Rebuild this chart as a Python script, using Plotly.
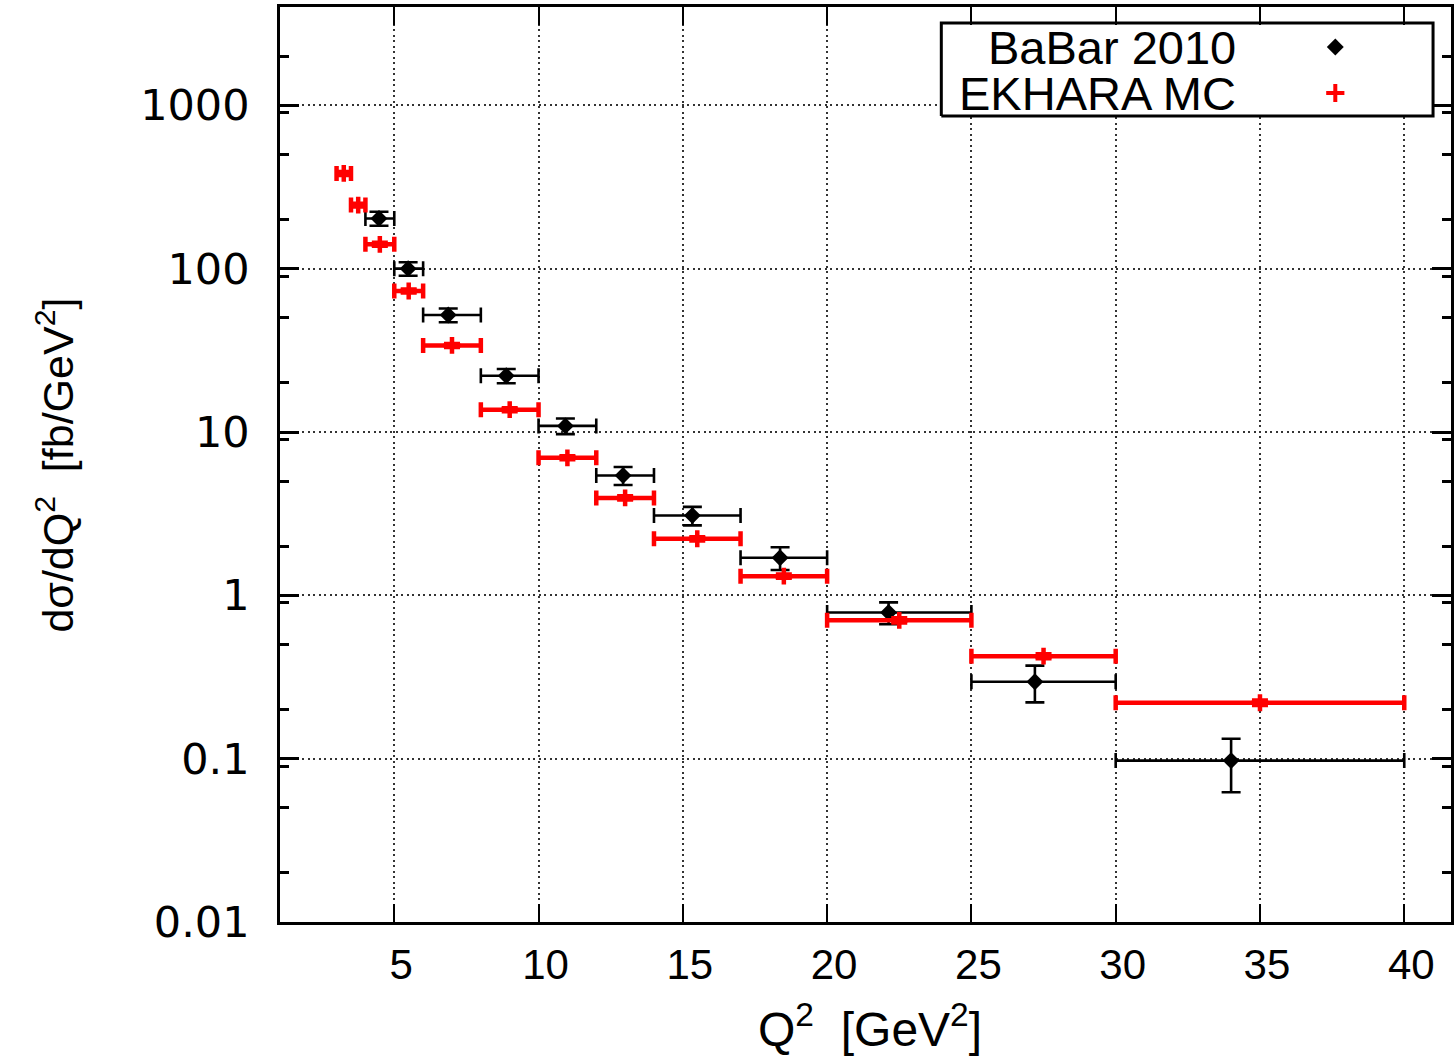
import plotly.graph_objects as go

# BaBar 2010 measurement: Q^2 bin edges, mean Q^2 in bin, d(sigma)/dQ^2 and its error
babar_lo = [4, 5, 6, 8, 10, 12, 14, 17, 20, 25, 30]
babar_hi = [5, 6, 8, 10, 12, 14, 17, 20, 25, 30, 40]
babar_q2 = [4.47, 5.48, 6.87, 8.88, 10.93, 12.93, 15.33, 18.37, 22.13, 27.2, 34.0]
babar_xs = [203, 100, 52.0, 22.1, 10.9, 5.42, 3.08, 1.70, 0.785, 0.296, 0.0973]
babar_err = [20, 9.5, 5.0, 2.2, 1.2, 0.68, 0.40, 0.27, 0.12, 0.075, 0.035]

# EKHARA Monte Carlo prediction: Q^2 bin edges, d(sigma)/dQ^2 and its error
ekh_lo = [3, 3.5, 4, 5, 6, 8, 10, 12, 14, 17, 20, 25, 30]
ekh_hi = [3.5, 4, 5, 6, 8, 10, 12, 14, 17, 20, 25, 30, 40]
ekh_xs = [383, 245, 141, 73.0, 33.9, 13.7, 6.95, 3.95, 2.22, 1.31, 0.703, 0.424, 0.220]
ekh_err = [8, 5, 3, 1.5, 0.7, 0.3, 0.15, 0.09, 0.05, 0.03, 0.02, 0.012, 0.007]

x_ticks = [5, 10, 15, 20, 25, 30, 35, 40]
y_ticks = [0.01, 0.1, 1, 10, 100, 1000]
y_tick_text = ["0.01", "0.1", "1", "10", "100", "1000"]
y_minor_mantissa = [2, 5, 9]

W, H = 1454, 1056
ML, MR, MT, MB = 280, 0, 7, 134
PW, PH = W - ML - MR, H - MT - MB


def px(x):
    return (x - ML) / PW


def py(y):
    return (H - MB - y) / PH


babar_plus = [h - q for h, q in zip(babar_hi, babar_q2)]
babar_minus = [q - l for l, q in zip(babar_lo, babar_q2)]
ekh_q2 = [(l + h) / 2 for l, h in zip(ekh_lo, ekh_hi)]
ekh_half = [(h - l) / 2 for l, h in zip(ekh_lo, ekh_hi)]

fig = go.Figure()

fig.add_trace(go.Scatter(
    x=babar_q2, y=babar_xs, mode="markers", name="BaBar 2010",
    marker=dict(symbol="diamond", size=13, color="black"),
    error_x=dict(type="data", symmetric=False, array=babar_plus, arrayminus=babar_minus,
                 color="black", thickness=2.6, width=7.5),
    error_y=dict(type="data", array=babar_err, color="black", thickness=2.6, width=9.5),
    showlegend=False,
))

fig.add_trace(go.Scatter(
    x=ekh_q2, y=ekh_xs, mode="markers", name="EKHARA MC",
    marker=dict(symbol="cross-thin-open", size=12, color="red",
                line=dict(color="red", width=4.5)),
    error_x=dict(type="data", array=ekh_half, color="red", thickness=4.5, width=7.5),
    error_y=dict(type="data", array=ekh_err, color="red", thickness=4.5, width=8),
    showlegend=False,
))

# key: framed white box and symbols, drawn on an overlay axis spanning the plot area
box_l, box_r, box_t, box_b = px(943), px(1436), py(23), py(116)
fig.add_trace(go.Scatter(
    x=[box_l, box_r, box_r, box_l, box_l], y=[box_b, box_b, box_t, box_t, box_b],
    xaxis="x2", yaxis="y2", mode="lines", fill="toself", fillcolor="white",
    line=dict(color="black", width=3), showlegend=False, hoverinfo="skip",
))
key_x = [px(1338), px(1338)]
key_y = [py(47), py(93)]
fig.add_trace(go.Scatter(
    x=key_x[:1], y=key_y[:1], xaxis="x2", yaxis="y2", mode="markers",
    marker=dict(symbol="diamond", size=13, color="black"), showlegend=False,
    hoverinfo="skip",
))
fig.add_trace(go.Scatter(
    x=key_x[1:], y=key_y[1:], xaxis="x2", yaxis="y2", mode="markers",
    marker=dict(symbol="cross-thin-open", size=13, color="red",
                line=dict(color="red", width=4)), showlegend=False,
    hoverinfo="skip",
))

minor_vals = [m * 10 ** e for e in range(-2, 4) for m in y_minor_mantissa]
minor_vals = [v for v in minor_vals if v < 4000]

grid = dict(showgrid=True, gridcolor="#333333", gridwidth=1.5, griddash="2px,3.5px")

fig.update_layout(
    width=W, height=H,
    margin=dict(l=ML, r=MR, t=MT, b=MB, pad=0),
    paper_bgcolor="white", plot_bgcolor="white",
    xaxis=dict(
        range=[1.04, 41.62], tickvals=x_ticks, ticktext=[str(v) for v in x_ticks],
        ticks="inside", ticklen=18, tickwidth=2, tickcolor="black",
        showline=True, linecolor="black", linewidth=2.6, mirror="ticks",
        zeroline=False, ticklabelstandoff=4, ticklabelshift=7,
        tickfont=dict(family="Liberation Sans", size=42, color="black"),
        **grid,
    ),
    yaxis=dict(
        type="log", range=[-2, 3.602], tickvals=y_ticks, ticktext=y_tick_text,
        ticks="inside", ticklen=19, tickwidth=2.6, tickcolor="black",
        showline=True, linecolor="black", linewidth=2.6, mirror="ticks",
        zeroline=False, ticklabelstandoff=19,
        tickfont=dict(family="DejaVu Sans", size=43, color="black"),
        minor=dict(tickvals=minor_vals, ticks="inside", ticklen=9, tickwidth=2.6,
                   tickcolor="black", showgrid=False),
        **grid,
    ),
    xaxis2=dict(overlaying="x", range=[0, 1], visible=False),
    yaxis2=dict(overlaying="y", range=[0, 1], visible=False),
    showlegend=False,
)

key_font = dict(family="Liberation Sans", size=47, color="black")
fig.add_annotation(text="BaBar 2010", xref="paper", yref="paper", x=px(1240), y=py(47),
                   xanchor="right", yanchor="middle", showarrow=False, font=key_font)
fig.add_annotation(text="EKHARA MC", xref="paper", yref="paper", x=px(1240), y=py(93),
                   xanchor="right", yanchor="middle", showarrow=False, font=key_font)

fig.add_annotation(text="Q<sup>2</sup>  [GeV<sup>2</sup>]", xref="paper", yref="paper",
                   x=px(872), y=py(1026), xanchor="center", yanchor="middle",
                   showarrow=False, font=dict(family="Liberation Sans", size=48, color="black"))
fig.add_annotation(text="dσ/dQ<sup>2</sup>  [fb/GeV<sup>2</sup>]", xref="paper", yref="paper",
                   x=px(54), y=py(465), xanchor="center", yanchor="middle",
                   textangle=-90, showarrow=False,
                   font=dict(family="Liberation Sans", size=43, color="black"))

fig.write_html("out.html")
